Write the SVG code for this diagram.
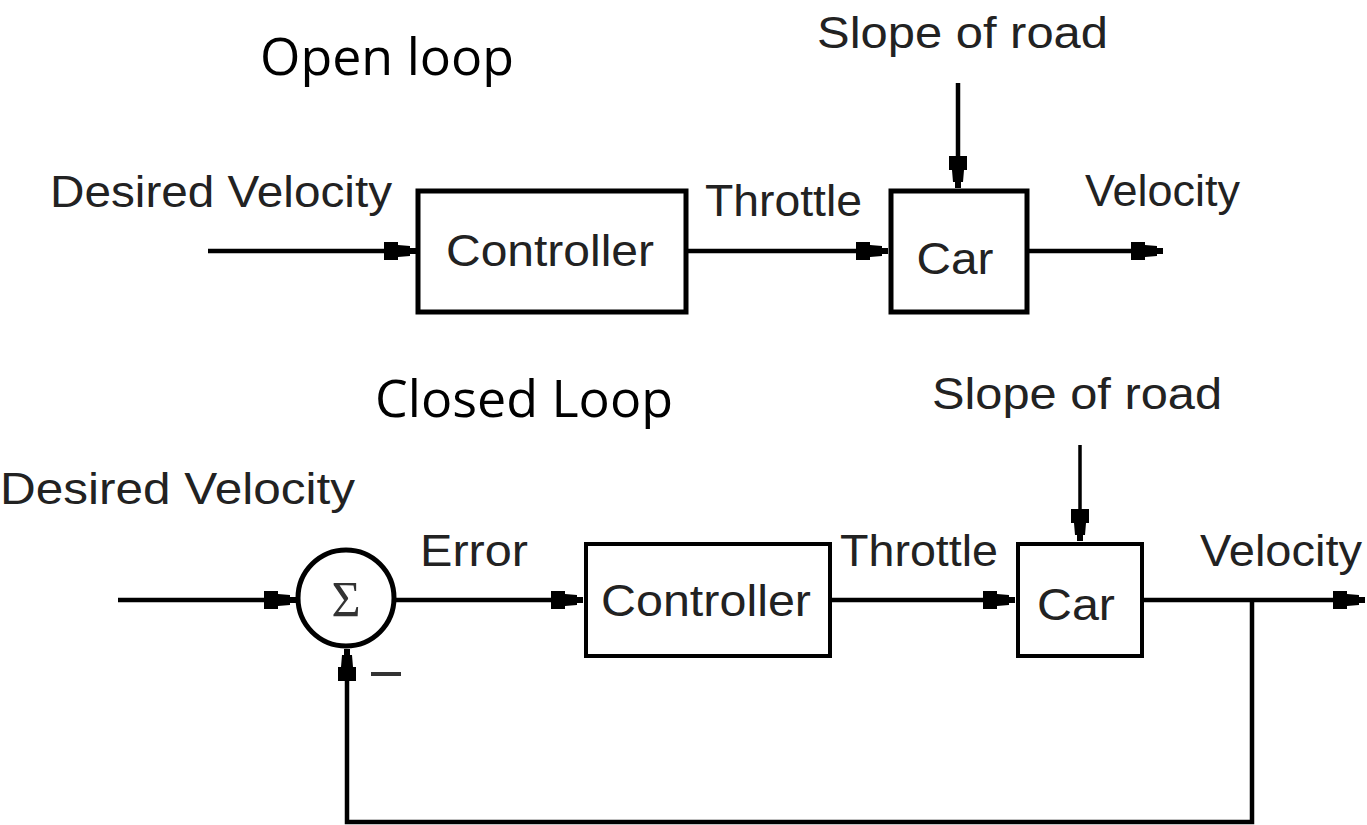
<svg xmlns="http://www.w3.org/2000/svg" width="1367" height="825" viewBox="0 0 1367 825">
<style>
.lbl{font-family:"Liberation Sans",Arial,sans-serif;font-size:44px;fill:#222}
.ttl{font-family:"Open Sans","Noto Sans",sans-serif;font-size:52px;fill:#000}
.box{fill:#fff;stroke:#000;stroke-width:5}
.ln{fill:none;stroke:#000;stroke-width:4.5}
.blk{font-family:"Liberation Sans",Arial,sans-serif;font-size:44px;fill:#222;text-anchor:middle}
</style>
<defs>
<marker id="ah" markerUnits="userSpaceOnUse" markerWidth="34" markerHeight="26" viewBox="-32 -13 34 26" refX="0" refY="0" orient="auto">
<path d="M-32,-9 L-18,-9 L-18,-6 L-6,-5 L-6,-3 L0,-3 L0,3 L-6,3 L-6,5 L-18,6 L-18,9 L-32,9 Z" fill="#000"/>
</marker>
</defs>
<text class="ttl" x="260" y="75" textLength="254" lengthAdjust="spacingAndGlyphs">Open loop</text>
<text class="ttl" x="375" y="417" textLength="298" lengthAdjust="spacingAndGlyphs">Closed Loop</text>
<g id="connectors">
<line class="ln" x1="208" y1="251" x2="416" y2="251" marker-end="url(#ah)"/>
<line class="ln" x1="687" y1="251" x2="888" y2="251" marker-end="url(#ah)"/>
<line class="ln" x1="958" y1="83" x2="958" y2="188" marker-end="url(#ah)"/>
<line class="ln" x1="1027" y1="251" x2="1163" y2="251" marker-end="url(#ah)"/>
<line class="ln" x1="118" y1="600" x2="296" y2="600" marker-end="url(#ah)"/>
<line class="ln" x1="395" y1="600" x2="583" y2="600" marker-end="url(#ah)"/>
<line class="ln" x1="830" y1="600" x2="1015" y2="600" marker-end="url(#ah)"/>
<line class="ln" x1="1080" y1="445" x2="1080" y2="541" marker-end="url(#ah)" style="stroke-width:3.5"/>
<line class="ln" x1="1142" y1="600" x2="1365" y2="600" marker-end="url(#ah)"/>
<polyline class="ln" points="1252,600 1252,822 347,822 347,649" marker-end="url(#ah)"/>
</g>
<g id="labels">
<text class="lbl" x="50" y="207" textLength="342" lengthAdjust="spacingAndGlyphs">Desired Velocity</text>
<text class="lbl" x="705" y="216" textLength="157" lengthAdjust="spacingAndGlyphs">Throttle</text>
<text class="lbl" x="1085" y="206" textLength="155" lengthAdjust="spacingAndGlyphs">Velocity</text>
<text class="lbl" x="817" y="48" textLength="291" lengthAdjust="spacingAndGlyphs">Slope of road</text>
<text class="lbl" x="932" y="409" textLength="290" lengthAdjust="spacingAndGlyphs">Slope of road</text>
<text class="lbl" x="0" y="504" textLength="355" lengthAdjust="spacingAndGlyphs">Desired Velocity</text>
<text class="lbl" x="420" y="566" textLength="108" lengthAdjust="spacingAndGlyphs">Error</text>
<text class="lbl" x="840" y="566" textLength="158" lengthAdjust="spacingAndGlyphs">Throttle</text>
<text class="lbl" x="1200" y="566" textLength="162" lengthAdjust="spacingAndGlyphs">Velocity</text>
<line x1="371" y1="674" x2="401" y2="674" stroke="#333" stroke-width="4"/>
</g>
<g id="controller1">
<rect class="box" x="418" y="191" width="268" height="121"/>
<text class="blk" x="550" y="266" textLength="208" lengthAdjust="spacingAndGlyphs">Controller</text>
</g>
<g id="car1">
<rect class="box" x="891" y="191" width="136" height="121"/>
<text class="blk" x="955" y="274" textLength="77" lengthAdjust="spacingAndGlyphs">Car</text>
</g>
<g id="sum">
<circle cx="346" cy="598" r="48" fill="#fff" stroke="#000" stroke-width="5"/>
<text x="346" y="616" font-family="Liberation Serif,serif" font-size="50" fill="#333" text-anchor="middle">Σ</text>
</g>
<g id="controller2">
<rect class="box" x="586" y="544" width="244" height="112" style="stroke-width:4"/>
<text class="blk" x="706" y="616" textLength="210" lengthAdjust="spacingAndGlyphs">Controller</text>
</g>
<g id="car2">
<rect class="box" x="1018" y="544" width="124" height="112" style="stroke-width:4"/>
<text class="blk" x="1076" y="620" textLength="78" lengthAdjust="spacingAndGlyphs">Car</text>
</g>
</svg>
